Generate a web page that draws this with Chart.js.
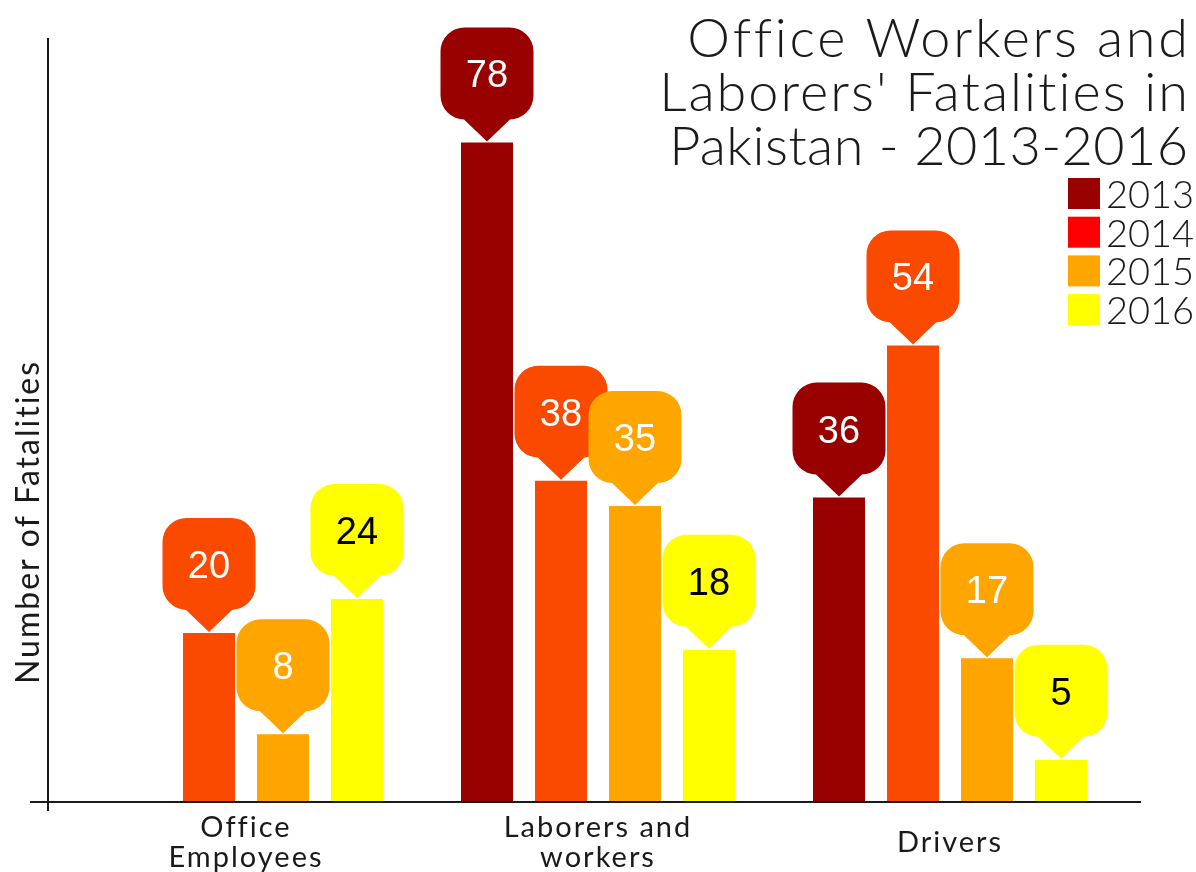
<!DOCTYPE html>
<html>
<head>
<meta charset="utf-8">
<script src="https://cdn.jsdelivr.net/npm/chart.js@4.4.0/dist/chart.umd.min.js"></script>
<style>
  html, body { margin: 0; padding: 0; background: #ffffff; }
  #wrap { width: 1196px; height: 872px; position: relative; overflow: hidden; }
</style>
</head>
<body>
<div id="wrap"><canvas id="c" width="1196" height="872"></canvas></div>
<script>
// ---- data ----
const categories = [["Office", "Employees"], ["Laborers and", "workers"], "Drivers"];
const seriesNames = ["2013", "2014", "2015", "2016"];
const values2013 = [null, 78, 36];
const values2014 = [20, 38, 54];
const values2015 = [8, 35, 17];
const values2016 = [24, 18, 5];
const titleLines = ["Office Workers and", "Laborers' Fatalities in", "Pakistan - 2013-2016"];
const yAxisTitle = "Number of Fatalities";
const yMin = 0;
const yMax = 90;

// ---- styles ----
const barColors = ["#990000", "#F94A00", "#FFA500", "#FFFF00"];
const legendColors = ["#990000", "#FF0000", "#FFA500", "#FFFF00"];
const labelTextColors = ["#ffffff", "#ffffff", "#ffffff", "#000000"];
const titleSpacing = [2.7, 2.0, 0.4];
const gothic = "'Lato', 'DejaVu Sans', sans-serif";
const arial = "'Liberation Sans', Arial, sans-serif";
const ink = "#1a1a1a";

const seriesValues = [values2013, values2014, values2015, values2016];

const overlay = {
  id: 'overlay',
  beforeDraw(chart) {
    chart.ctx.letterSpacing = '2px';
  },
  afterDatasetsDraw(chart) {
    const { ctx, chartArea: a } = chart;
    ctx.save();
    ctx.letterSpacing = '0px';
    // axes
    ctx.strokeStyle = ink;
    ctx.lineWidth = 2;
    ctx.beginPath();
    ctx.moveTo(a.left - 22, a.top - 3);
    ctx.lineTo(a.left - 22, a.bottom + 9);
    ctx.moveTo(a.left - 40, a.bottom);
    ctx.lineTo(a.right + 15, a.bottom);
    ctx.stroke();

    // callouts
    const bw = 93, bh = 92, r = 24, ph = 22;
    chart.data.datasets.forEach((ds, di) => {
      const meta = chart.getDatasetMeta(di);
      meta.data.forEach((el, i) => {
        const v = ds.data[i];
        if (v === null || v === undefined) return;
        const x = el.x;
        const tip = el.y - 1;
        const bottom = tip - ph;
        const top = bottom - bh;
        const left = x - bw / 2, right = x + bw / 2;
        ctx.fillStyle = barColors[di];
        ctx.beginPath();
        ctx.moveTo(left + r, top);
        ctx.lineTo(right - r, top);
        ctx.arcTo(right, top, right, top + r, r);
        ctx.lineTo(right, bottom - r);
        ctx.arcTo(right, bottom, right - r, bottom, r);
        ctx.lineTo(x + ph + 1, bottom);
        ctx.lineTo(x, tip);
        ctx.lineTo(x - ph - 1, bottom);
        ctx.lineTo(left + r, bottom);
        ctx.arcTo(left, bottom, left, bottom - r, r);
        ctx.lineTo(left, top + r);
        ctx.arcTo(left, top, left + r, top, r);
        ctx.closePath();
        ctx.fill();
        ctx.fillStyle = labelTextColors[di];
        ctx.font = "38px " + arial;
        ctx.textAlign = 'center';
        ctx.textBaseline = 'alphabetic';
        ctx.fillText(String(v), x, top + bh / 2 + 14);
      });
    });

    // title
    ctx.fillStyle = ink;
    ctx.font = "300 54px " + gothic;
    ctx.textAlign = 'right';
    ctx.textBaseline = 'alphabetic';
    titleLines.forEach((t, i) => {
      ctx.letterSpacing = titleSpacing[i] + 'px';
      ctx.fillText(t, 1188 + titleSpacing[i], 57 + i * 54);
    });

    // legend
    ctx.letterSpacing = '0px';
    ctx.font = "300 38px " + gothic;
    ctx.textAlign = 'left';
    seriesNames.forEach((n, i) => {
      const y = 178 + i * 38.7;
      ctx.fillStyle = legendColors[i];
      ctx.fillRect(1068, y, 32, 31);
      ctx.fillStyle = ink;
      ctx.fillText(n, 1106, y + 30);
    });

    // y-axis title
    ctx.save();
    ctx.translate(39, 523);
    ctx.rotate(-Math.PI / 2);
    ctx.letterSpacing = '2px';
    ctx.font = "32px " + gothic;
    ctx.textAlign = 'center';
    ctx.textBaseline = 'alphabetic';
    ctx.fillStyle = ink;
    ctx.fillText(yAxisTitle, 1, 0);
    ctx.restore();

    ctx.restore();
  }
};

new Chart(document.getElementById('c'), {
  type: 'bar',
  data: {
    labels: categories,
    datasets: seriesNames.map((n, i) => ({
      label: n,
      data: seriesValues[i],
      backgroundColor: barColors[i],
      borderWidth: 0,
      categoryPercentage: 296 / 352,
      barPercentage: 52 / 74
    }))
  },
  options: {
    responsive: false,
    animation: false,
    devicePixelRatio: 1,
    layout: { padding: { left: 70, right: 70, top: 41, bottom: 0 } },
    plugins: {
      legend: { display: false },
      title: { display: false },
      tooltip: { enabled: false }
    },
    scales: {
      x: {
        grid: { display: false, drawTicks: false },
        border: { display: false },
        ticks: {
          color: ink,
          font: { family: gothic, size: 29, weight: 400, lineHeight: 30 / 29 },
          padding: 26,
          crossAlign: 'center',
          maxRotation: 0,
          autoSkip: false
        },
        afterFit(scale) { scale.height = 70; }
      },
      y: { display: false, min: yMin, max: yMax }
    }
  },
  plugins: [overlay]
});
</script>
</body>
</html>
